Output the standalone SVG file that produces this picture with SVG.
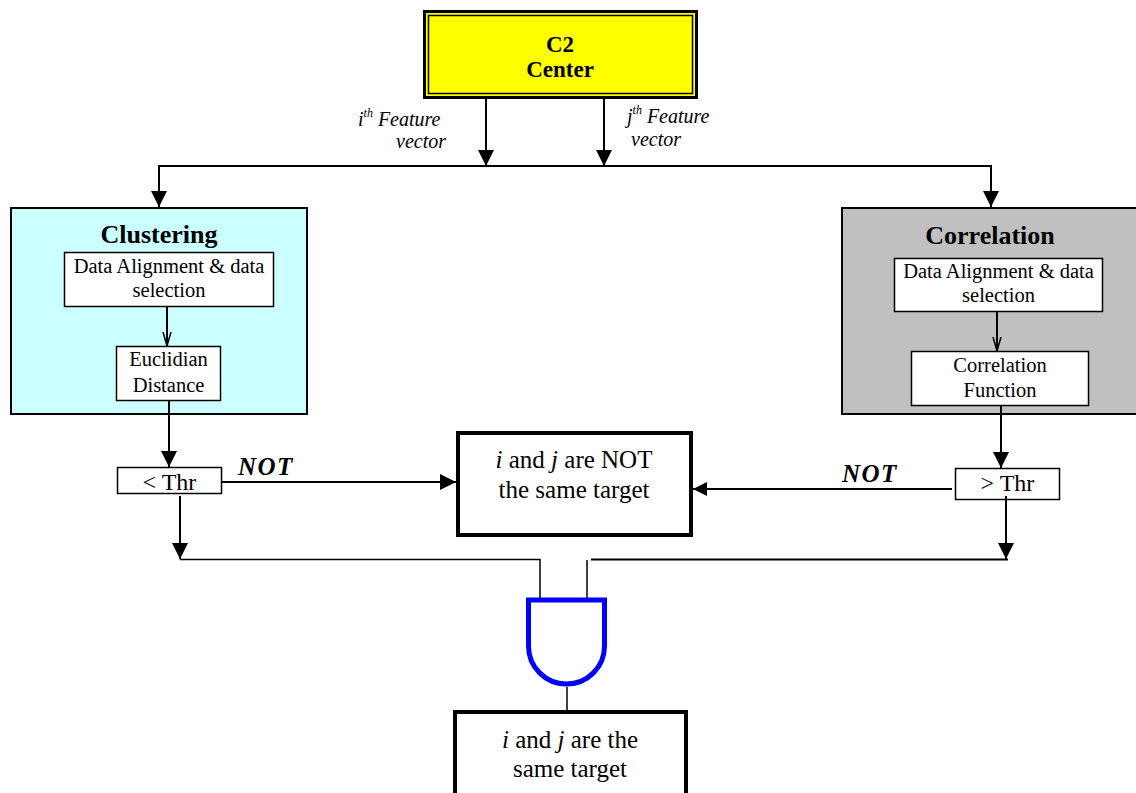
<svg xmlns="http://www.w3.org/2000/svg" width="1136" height="793" viewBox="0 0 1136 793">
<defs>
<style>
text{font-family:"Liberation Serif","Times New Roman",serif;fill:#000}
.c{text-anchor:middle}
.b{font-weight:bold}
.it{font-style:italic}
.ln{stroke:#000;stroke-width:2;fill:none}
.thin{stroke:#000;stroke-width:1.5;fill:none}
.box{fill:#fff;stroke:#000;stroke-width:1.5}
.big{fill:#fff;stroke:#000;stroke-width:4}
</style>
<marker id="ah" viewBox="0 0 16 16" refX="16" refY="8" markerWidth="16" markerHeight="16" markerUnits="userSpaceOnUse" orient="auto">
<path d="M0,0 L16,8 L0,16 Z" fill="#000"/>
</marker>
<marker id="ahs" viewBox="0 0 14 14" refX="14" refY="7" markerWidth="14" markerHeight="14" markerUnits="userSpaceOnUse" orient="auto">
<path d="M0,0 L14,7 L0,14 Z" fill="#000"/>
</marker>
<marker id="open" viewBox="0 0 14 10" refX="14" refY="5" markerWidth="14" markerHeight="10" markerUnits="userSpaceOnUse" orient="auto">
<path d="M0,1 L14,5 L0,9" fill="none" stroke="#000" stroke-width="1.5"/>
</marker>
</defs>
<rect width="1136" height="793" fill="#fff"/>

<g id="c2-center">
<rect x="424.5" y="11.5" width="272" height="86" fill="#FFFF00" stroke="#000" stroke-width="3"/>
<rect x="428.5" y="15.5" width="264" height="78" fill="#FFFF00" stroke="#000" stroke-width="1.5"/>
<text class="c b" x="560" y="52" font-size="23">C2</text>
<text class="c b" x="560" y="77" font-size="23">Center</text>
</g>

<g id="feature-labels">
<text class="it" x="358" y="126" font-size="20">i<tspan font-size="12" dy="-9">th</tspan><tspan dy="9"> Feature</tspan></text>
<text class="it" x="446" y="148" font-size="20" text-anchor="end">vector</text>
<text class="it" x="627" y="123" font-size="20">j<tspan font-size="12" dy="-9">th</tspan><tspan dy="9"> Feature</tspan></text>
<text class="it" x="631" y="146" font-size="20">vector</text>
</g>

<g id="clustering">
<rect x="11" y="208" width="296" height="206" fill="#CCFFFF" stroke="#000" stroke-width="2"/>
<text class="c b" x="159" y="243" font-size="26">Clustering</text>
</g>
<g id="clustering-data-alignment">
<rect class="box" x="64.5" y="252.5" width="209" height="54"/>
<text class="c" x="169" y="273" font-size="20.5">Data Alignment &amp; data</text>
<text class="c" x="169" y="297" font-size="20.5">selection</text>
</g>
<g id="euclidian-distance">
<rect class="box" x="116.5" y="346.5" width="104" height="54"/>
<text class="c" x="168.5" y="366" font-size="20.5">Euclidian</text>
<text class="c" x="168.5" y="392" font-size="20.5">Distance</text>
</g>

<g id="correlation">
<rect x="842" y="208" width="300" height="206" fill="#C0C0C0" stroke="#000" stroke-width="2"/>
<text class="c b" x="990" y="244" font-size="26">Correlation</text>
</g>
<g id="correlation-data-alignment">
<rect class="box" x="894.5" y="258.5" width="208" height="53"/>
<text class="c" x="998.5" y="278" font-size="20.5">Data Alignment &amp; data</text>
<text class="c" x="998.5" y="302" font-size="20.5">selection</text>
</g>
<g id="correlation-function">
<rect class="box" x="911.5" y="351.5" width="177" height="54"/>
<text class="c" x="1000" y="372" font-size="20.5">Correlation</text>
<text class="c" x="1000" y="397" font-size="20.5">Function</text>
</g>

<g id="lt-thr">
<rect class="box" x="117.5" y="467.5" width="104" height="26"/>
<text class="c" x="169.5" y="490" font-size="24">&lt; Thr</text>
</g>
<g id="gt-thr">
<rect class="box" x="955.5" y="468.5" width="104" height="31"/>
<text class="c" x="1007.5" y="491" font-size="24">&gt; Thr</text>
</g>

<g id="not-same-target">
<rect class="big" x="458" y="433" width="233" height="102"/>
<text x="574" y="468" font-size="25" class="c"><tspan class="it">i</tspan> and <tspan class="it">j</tspan> are NOT</text>
<text x="574" y="498" font-size="25" class="c">the same target</text>
</g>

<g id="and-gate">
<path d="M528.5,600 H604.5 V646 A38,38 0 0 1 528.5,646 Z" fill="#fff" stroke="#0000FF" stroke-width="5"/>
</g>

<g id="same-target">
<rect class="big" x="455" y="712" width="231" height="100"/>
<text x="570" y="748" font-size="25" class="c"><tspan class="it">i</tspan> and <tspan class="it">j</tspan> are the</text>
<text x="570" y="777" font-size="25" class="c">same target</text>
</g>

<g id="connectors">
<line class="ln" x1="486" y1="99" x2="486" y2="166" marker-end="url(#ah)"/>
<line class="ln" x1="604" y1="99" x2="604" y2="166" marker-end="url(#ah)"/>
<line class="ln" x1="159" y1="166" x2="992" y2="166"/>
<line class="ln" x1="159" y1="165" x2="159" y2="207" marker-end="url(#ah)"/>
<line class="ln" x1="991" y1="165" x2="991" y2="207" marker-end="url(#ah)"/>
<line class="ln" x1="167" y1="306" x2="167" y2="346" marker-end="url(#open)"/>
<line class="ln" x1="997" y1="311" x2="997" y2="351" marker-end="url(#open)"/>
<line class="ln" x1="169" y1="400" x2="169" y2="467" marker-end="url(#ah)"/>
<line class="ln" x1="1001" y1="405" x2="1001" y2="468" marker-end="url(#ah)"/>
<line class="ln" x1="222" y1="482" x2="456" y2="482" marker-end="url(#ah)"/>
<text class="b it" x="238" y="475" font-size="25" letter-spacing="1.5">NOT</text>
<line class="ln" x1="952" y1="489" x2="693" y2="489" marker-end="url(#ahs)"/>
<text class="b it" x="842" y="482" font-size="25" letter-spacing="1.5">NOT</text>
<line class="ln" x1="180" y1="496" x2="180" y2="559" marker-end="url(#ah)"/>
<line class="ln" x1="1006" y1="496" x2="1006" y2="559" marker-end="url(#ah)"/>
<polyline class="thin" points="180,559.5 540,559.5 540,598"/>
<line class="thin" x1="587" y1="560" x2="587" y2="598"/>
<line class="ln" x1="591" y1="559.5" x2="1008" y2="559.5"/>
<line class="thin" x1="567" y1="687" x2="567" y2="711"/>
</g>
</svg>
